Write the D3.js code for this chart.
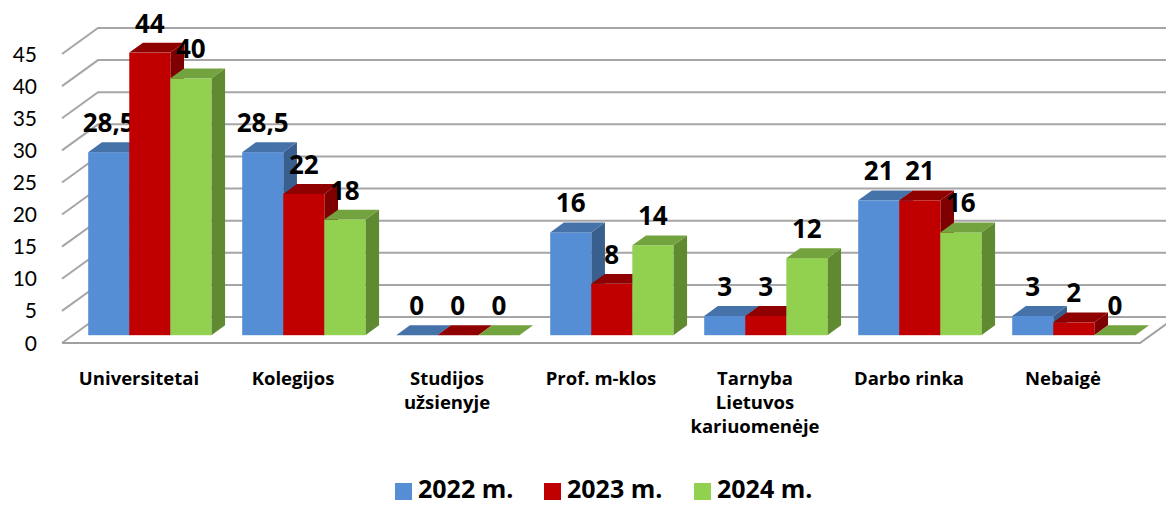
<!DOCTYPE html>
<html>
<head>
<meta charset="utf-8">
<script src="https://cdn.jsdelivr.net/npm/d3@7"></script>
<style>
  body { margin: 0; background: #fff; }
  text { font-family: "Open Sans", Lato, sans-serif; }
</style>
</head>
<body>
<div id="chart"></div>
<script>
// data
const categories = ["Universitetai", "Kolegijos", "Studijos užsienyje", "Prof. m-klos",
  "Tarnyba Lietuvos kariuomenėje", "Darbo rinka", "Nebaigė"];
const categoryLines = [["Universitetai"], ["Kolegijos"], ["Studijos", "užsienyje"], ["Prof. m-klos"],
  ["Tarnyba", "Lietuvos", "kariuomenėje"], ["Darbo rinka"], ["Nebaigė"]];
const seriesNames = ["2022 m.", "2023 m.", "2024 m."];
const values2022 = [28.5, 28.5, 0, 16, 3, 21, 3];
const values2023 = [44, 22, 0, 8, 3, 21, 2];
const values2024 = [40, 18, 0, 14, 12, 16, 0];
const yTicks = [0, 5, 10, 15, 20, 25, 30, 35, 40, 45];

const series = [values2022, values2023, values2024];
const colors = [
  { front: "#558ed5", side: "#395f8f", top: "#4672aa" },
  { front: "#c00000", side: "#7f0000", top: "#8f0000" },
  { front: "#92d050", side: "#5f8a32", top: "#72a33e" }
];

const W = 1166, H = 505;
const svg = d3.select("#chart").append("svg").attr("width", W).attr("height", H);

// projection: depth offset of the floor (back edge relative to front edge)
const DX = 36, DY = -26;
const t0 = 0.3, t1 = 0.68; // bar front / back depth
const y = d3.scaleLinear().domain([0, 45]).range([343, 54]);
const x = d3.scaleBand().domain(categories).range([62, 1140]).paddingInner(0.2).paddingOuter(0.1);
const xs = d3.scaleBand().domain(d3.range(3)).range([0, x.bandwidth()]);

// gridlines (left wall diagonal + back wall)
const grid = svg.append("g");
yTicks.forEach(v => {
  grid.append("path")
    .attr("d", `M62,${y(v)}L${62 + DX},${y(v) + DY}L${W + 10},${y(v) + DY}`)
    .attr("fill", "none")
    .attr("stroke", "#a6a6a6")
    .attr("stroke-width", 2);
});
// floor outline
svg.append("path")
  .attr("d", `M62,${y(0)}L1140,${y(0)}L${1140 + DX},${y(0) + DY}`)
  .attr("fill", "none")
  .attr("stroke", "#a0a0a0")
  .attr("stroke-width", 2);

// y tick labels
svg.append("g").selectAll("text").data(yTicks).join("text")
  .attr("x", 37).attr("y", d => y(d)).attr("dy", "0.36em")
  .attr("text-anchor", "end")
  .style("font-family", "Lato, sans-serif")
  .attr("font-size", 21).attr("fill", "#000")
  .text(d => d);

// bars
const bars = svg.append("g");
categories.forEach((c, i) => {
  series.forEach((vals, s) => {
    const v = vals[i];
    const col = colors[s];
    const x0 = x(c) + xs(s) + DX * t0;
    const x1 = x0 + xs.bandwidth();
    const yb = y(0) + DY * t0;
    const yt = y(v) + DY * t0;
    const dx = DX * (t1 - t0), dy = DY * (t1 - t0);
    if (v > 0) {
      bars.append("path")
        .attr("d", `M${x1},${yb}L${x1 + dx},${yb + dy}L${x1 + dx},${yt + dy}L${x1},${yt}Z`)
        .attr("fill", col.side);
      bars.append("rect")
        .attr("x", x0).attr("y", yt).attr("width", x1 - x0).attr("height", yb - yt)
        .attr("fill", col.front);
    }
    bars.append("path")
      .attr("d", `M${x0},${yt}L${x1},${yt}L${x1 + dx},${yt + dy}L${x0 + dx},${yt + dy}Z`)
      .attr("fill", col.top);
    bars.append("text")
      .attr("x", (x0 + x1) / 2).attr("y", yt - 20)
      .attr("text-anchor", "middle")
      .attr("font-size", 26).attr("font-weight", "bold").attr("fill", "#000")
      .text(String(v).replace(".", ","));
  });
});

// category labels
const labels = svg.append("g");
categories.forEach((c, i) => {
  const cx = x(c) + x.bandwidth() / 2;
  const t = labels.append("text")
    .attr("x", cx)
    .attr("y", 385)
    .attr("text-anchor", "middle")
    .attr("font-size", 18.5).attr("font-weight", "bold").attr("fill", "#000");
  categoryLines[i].forEach((line, k) => {
    t.append("tspan").attr("x", cx).attr("dy", k === 0 ? 0 : 24).text(line);
  });
});

// legend
const legendX = [395, 544, 694];
const legend = svg.append("g");
seriesNames.forEach((name, s) => {
  legend.append("rect")
    .attr("x", legendX[s]).attr("y", 483).attr("width", 17).attr("height", 17)
    .attr("fill", colors[s].front);
  legend.append("text")
    .attr("x", legendX[s] + 23).attr("y", 498)
    .attr("font-size", 25).attr("font-weight", "bold").attr("fill", "#000")
    .text(name);
});
</script>
</body>
</html>
